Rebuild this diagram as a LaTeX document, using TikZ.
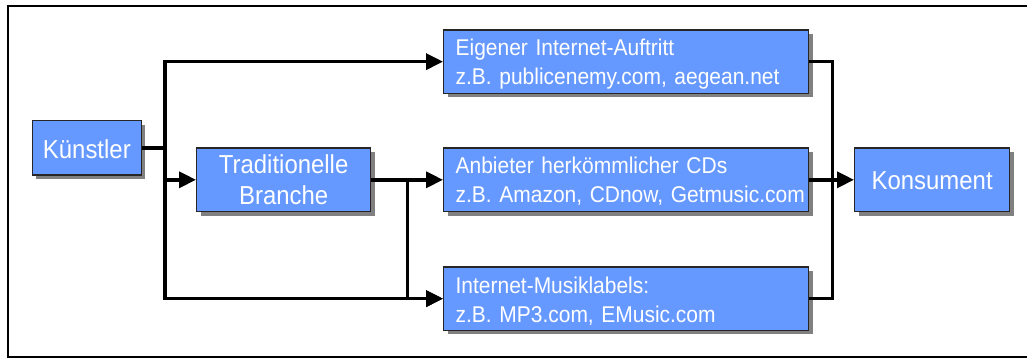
\documentclass[tikz,border=0pt]{standalone}
\usepackage{fontspec}
\setmainfont[FakeStretch=0.92]{Liberation Sans}
\usetikzlibrary{arrows.meta,shadows}
\definecolor{boxblue}{HTML}{6699FF}
\definecolor{shade}{HTML}{808080}
\begin{document}
\begin{tikzpicture}[x=1pt,y=-1pt,
  box/.style={draw=black!85, line width=1.3pt, fill=boxblue, text=white,
    anchor=north west, inner ysep=0pt, inner xsep=12pt,
    drop shadow={shadow xshift=4pt, shadow yshift=-4pt, fill=shade, opacity=1}},
  small/.style={font=\fontsize{22.8}{28.5}\selectfont, align=left},
  big/.style={font=\fontsize{26}{31}\selectfont, align=center, inner xsep=0pt},
  conn/.style={line width=3.5pt},
  arr/.style={line width=3.5pt, -{Triangle[length=17pt,width=16pt]}}]
\useasboundingbox (0,0) rectangle (1027,358);
\draw[line width=2.2pt] (1030,5.7) -- (8.3,5.7) -- (8.3,356.7) -- (1030,356.7);

\node[box, big, text width=109pt, text height=37.7pt, text depth=16.6pt] (kue) at (31.7,120) {Künstler};
\node[box, big, text width=174pt, text height=26pt, text depth=37.7pt] (tra) at (196,147.3) {Traditionelle\\Branche};
\node[box, big, text width=155pt, text height=42pt, text depth=21.7pt] (kon) at (854,147.3) {Konsument};
\node[box, small, text width=341pt, text height=25.7pt, text depth=37.7pt] (eig) at (443,29.3) {Eigener Internet-Auftritt\\\mbox{z.B. publicenemy.com, aegean.net}};
\node[box, small, text width=341pt, text height=26pt, text depth=37.7pt] (anb) at (443,147.3) {Anbieter herkömmlicher CDs\\\mbox{z.B. Amazon, CDnow, Getmusic.com}};
\node[box, small, text width=341pt, text height=26.7pt, text depth=36.7pt] (iml) at (443,266.3) {Internet-Musiklabels:\\\mbox{z.B. MP3.com, EMusic.com}};

\draw[conn] (kue.east) -- ++(23,0) coordinate (j1);
\draw[arr] (j1) |- (eig.west);
\draw[arr] (j1) |- (tra.west);
\draw[arr] (j1) |- (iml.west);
\draw[arr] (tra.east) -- (anb.west);
\path (tra.east) -- ++(36,0) coordinate (j2);
\draw[arr] (j2) |- (iml.west);
\path (anb.east) -- ++(23,0) coordinate (j3);
\draw[conn] (eig.east) -| (j3) |- (iml.east);
\draw[arr] (anb.east) -- (kon.west);
\end{tikzpicture}
\end{document}
